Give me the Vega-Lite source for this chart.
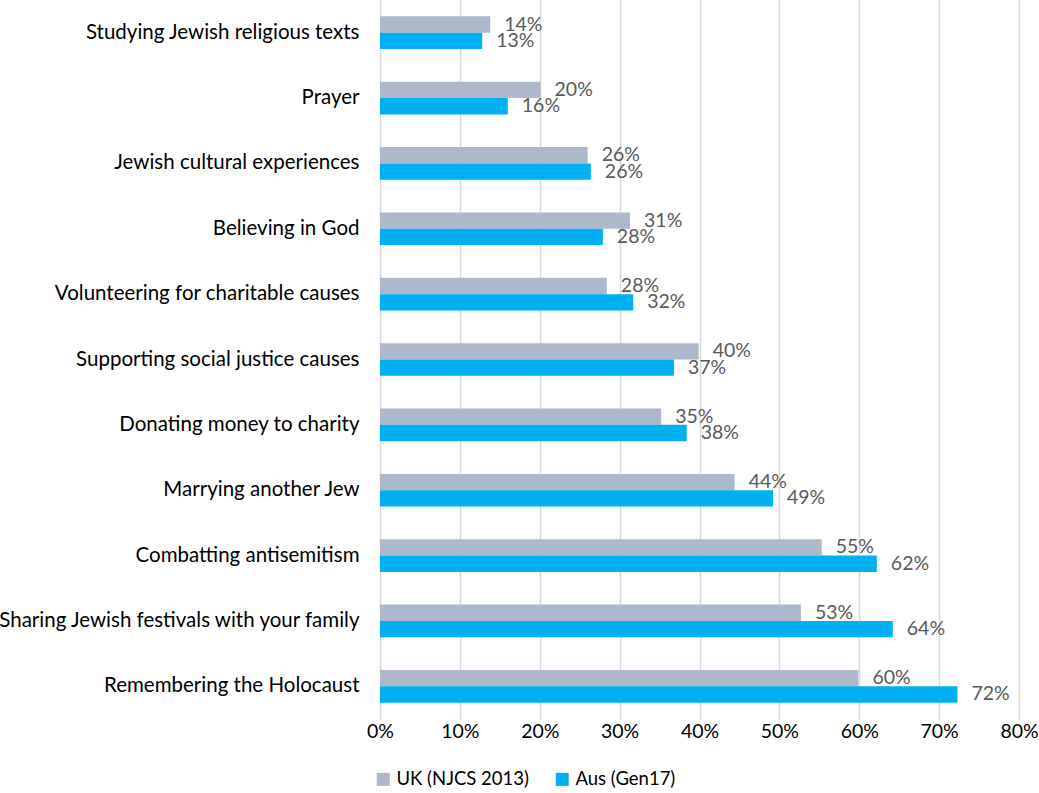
{
  "$schema": "https://vega.github.io/schema/vega-lite/v6.json",
  "width": 639,
  "height": 719,
  "autosize": {"type": "none"},
  "padding": {"left": 380, "top": 0, "right": 20, "bottom": 74},
  "background": "white",
  "config": {
    "font": "Lato",
    "view": {"stroke": null}
  },
  "data": {
    "values": [
      {"category": "Studying Jewish religious texts", "series": "UK (NJCS 2013)", "value": 0.138},
      {"category": "Studying Jewish religious texts", "series": "Aus (Gen17)", "value": 0.128},
      {"category": "Prayer", "series": "UK (NJCS 2013)", "value": 0.201},
      {"category": "Prayer", "series": "Aus (Gen17)", "value": 0.16},
      {"category": "Jewish cultural experiences", "series": "UK (NJCS 2013)", "value": 0.26},
      {"category": "Jewish cultural experiences", "series": "Aus (Gen17)", "value": 0.264},
      {"category": "Believing in God", "series": "UK (NJCS 2013)", "value": 0.313},
      {"category": "Believing in God", "series": "Aus (Gen17)", "value": 0.279},
      {"category": "Volunteering for charitable causes", "series": "UK (NJCS 2013)", "value": 0.284},
      {"category": "Volunteering for charitable causes", "series": "Aus (Gen17)", "value": 0.317},
      {"category": "Supporting social justice causes", "series": "UK (NJCS 2013)", "value": 0.399},
      {"category": "Supporting social justice causes", "series": "Aus (Gen17)", "value": 0.368},
      {"category": "Donating money to charity", "series": "UK (NJCS 2013)", "value": 0.352},
      {"category": "Donating money to charity", "series": "Aus (Gen17)", "value": 0.384},
      {"category": "Marrying another Jew", "series": "UK (NJCS 2013)", "value": 0.444},
      {"category": "Marrying another Jew", "series": "Aus (Gen17)", "value": 0.492},
      {"category": "Combatting antisemitism", "series": "UK (NJCS 2013)", "value": 0.553},
      {"category": "Combatting antisemitism", "series": "Aus (Gen17)", "value": 0.622},
      {"category": "Sharing Jewish festivals with your family", "series": "UK (NJCS 2013)", "value": 0.527},
      {"category": "Sharing Jewish festivals with your family", "series": "Aus (Gen17)", "value": 0.642},
      {"category": "Remembering the Holocaust", "series": "UK (NJCS 2013)", "value": 0.599},
      {"category": "Remembering the Holocaust", "series": "Aus (Gen17)", "value": 0.723}
    ]
  },
  "encoding": {
    "y": {
      "field": "category",
      "type": "nominal",
      "sort": null,
      "title": null,
      "scale": {"paddingInner": 0.5, "paddingOuter": 0.25},
      "axis": {
        "ticks": false,
        "domain": false,
        "labelFontSize": 20.5,
        "labelColor": "#000000",
        "labelPadding": 21,
        "labelLimit": 400
      }
    },
    "yOffset": {
      "field": "series",
      "type": "nominal",
      "sort": ["UK (NJCS 2013)", "Aus (Gen17)"]
    },
    "x": {
      "field": "value",
      "type": "quantitative",
      "title": null,
      "scale": {"domain": [0, 0.8], "nice": false},
      "axis": {
        "format": ".0%",
        "values": [0, 0.1, 0.2, 0.3, 0.4, 0.5, 0.6, 0.7, 0.8],
        "labelOverlap": false,
        "labelFlush": false,
        "labelBound": false,
        "ticks": false,
        "domain": false,
        "grid": true,
        "gridColor": "#D9D9D9",
        "gridWidth": 1.5,
        "labelFontSize": 19.5,
        "labelColor": "#000000",
        "labelPadding": 3
      }
    }
  },
  "layer": [
    {
      "mark": {"type": "bar"},
      "encoding": {
        "color": {
          "field": "series",
          "type": "nominal",
          "scale": {"domain": ["UK (NJCS 2013)", "Aus (Gen17)"], "range": ["#ADB9CA", "#00B0F0"]},
          "legend": {
            "title": null,
            "orient": "none",
            "direction": "horizontal",
            "legendX": -6,
            "legendY": 770,
            "symbolType": "square",
            "symbolSize": 169,
            "symbolStrokeWidth": 0,
            "symbolOpacity": 1,
            "labelFontSize": 18.5,
            "labelColor": "#000000",
            "labelOffset": 4,
            "columnPadding": 24
          }
        }
      }
    },
    {
      "mark": {"type": "text", "align": "left", "baseline": "middle", "dx": 14, "fontSize": 19.5, "color": "#595959"},
      "encoding": {
        "text": {"field": "value", "type": "quantitative", "format": ".0%"}
      }
    }
  ]
}
